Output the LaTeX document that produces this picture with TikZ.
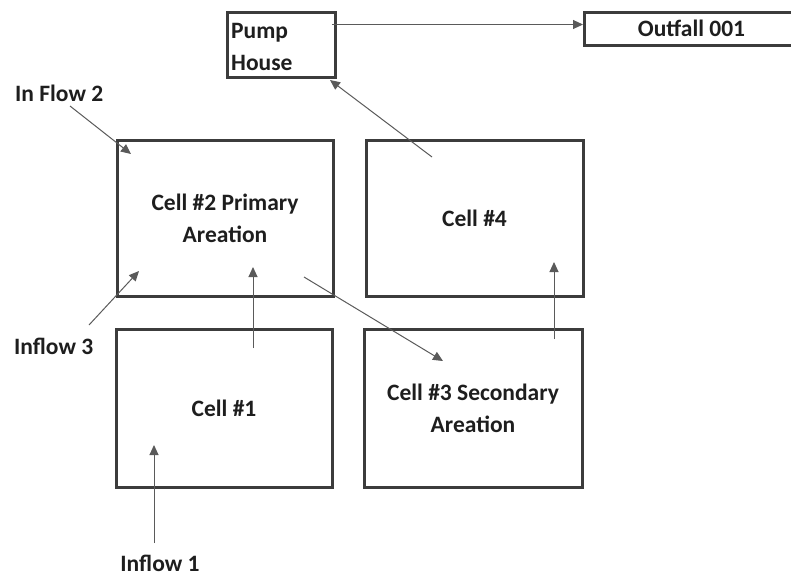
\documentclass[tikz,border=0pt]{standalone}
\usepackage{fontspec}
\setmainfont{Carlito}
\usetikzlibrary{arrows.meta}
\definecolor{boxc}{HTML}{3C3C3C}
\definecolor{arrc}{HTML}{5A5A5A}
\definecolor{txtc}{HTML}{1E1E1E}
\tikzset{
  cellbox/.style={draw=boxc, line width=3pt, inner sep=0pt, align=center, text=txtc,
    font=\fontsize{23.5}{32}\selectfont\bfseries},
  lbl/.style={inner sep=0pt, text=txtc, font=\fontsize{23.5}{32}\selectfont\bfseries},
  flow/.style={draw=arrc, line width=1pt, -{Triangle[length=10pt,width=9pt]}}
}
\begin{document}
\begin{tikzpicture}[x=1pt,y=-1pt]
\useasboundingbox (0,0) rectangle (791,579);
% boxes
\node[cellbox, minimum width=108pt, minimum height=65pt] (pump) at (281,44.5) {};
\node[lbl, anchor=north west, align=left] (pumptxt) at (231,23) {Pump\\House};
\node[cellbox, minimum width=210pt, minimum height=33pt, anchor=west] (outfall) at (583,28.5) {\hspace*{4pt}Outfall 001};
\node[cellbox, minimum width=216pt, minimum height=156pt] (cell2) at (225,218) {Cell \#2 Primary\\Areation};
\node[cellbox, minimum width=217pt, minimum height=156pt] (cell4) at (474.5,218) {Cell \#4};
\node[cellbox, minimum width=216pt, minimum height=158pt] (cell1) at (224,408) {Cell \#1};
\node[cellbox, minimum width=218pt, minimum height=158pt] (cell3) at (473,408) {Cell \#3 Secondary\\Areation};
% labels
\node[lbl, anchor=west] (in2) at (15,93) {In Flow 2};
\node[lbl, anchor=west] (in3) at (14,346) {Inflow 3};
\node[lbl] (in1) at (160,563) {Inflow 1};
% coordinates
\coordinate (a1) at (332,24.5);
\coordinate (a2) at (583,24.5);
\coordinate (b1) at (432,157);
\coordinate (b2) at (330,80);
\coordinate (c1) at (70,106);
\coordinate (c2) at (131,154);
\coordinate (d1) at (89,325);
\coordinate (d2) at (139,271);
\coordinate (e1) at (253,348);
\coordinate (e2) at (253,267);
\coordinate (f1) at (304,277);
\coordinate (f2) at (443,361);
\coordinate (g1) at (554,339);
\coordinate (g2) at (554,262);
\coordinate (h1) at (154,543);
\coordinate (h2) at (154,445);
% arrows
\draw[flow] (a1) -- (a2);
\draw[flow] (b1) -- (b2);
\draw[flow] (c1) -- (c2);
\draw[flow] (d1) -- (d2);
\draw[flow] (e1) -- (e2);
\draw[flow] (f1) -- (f2);
\draw[flow] (g1) -- (g2);
\draw[flow] (h1) -- (h2);
\end{tikzpicture}
\end{document}
